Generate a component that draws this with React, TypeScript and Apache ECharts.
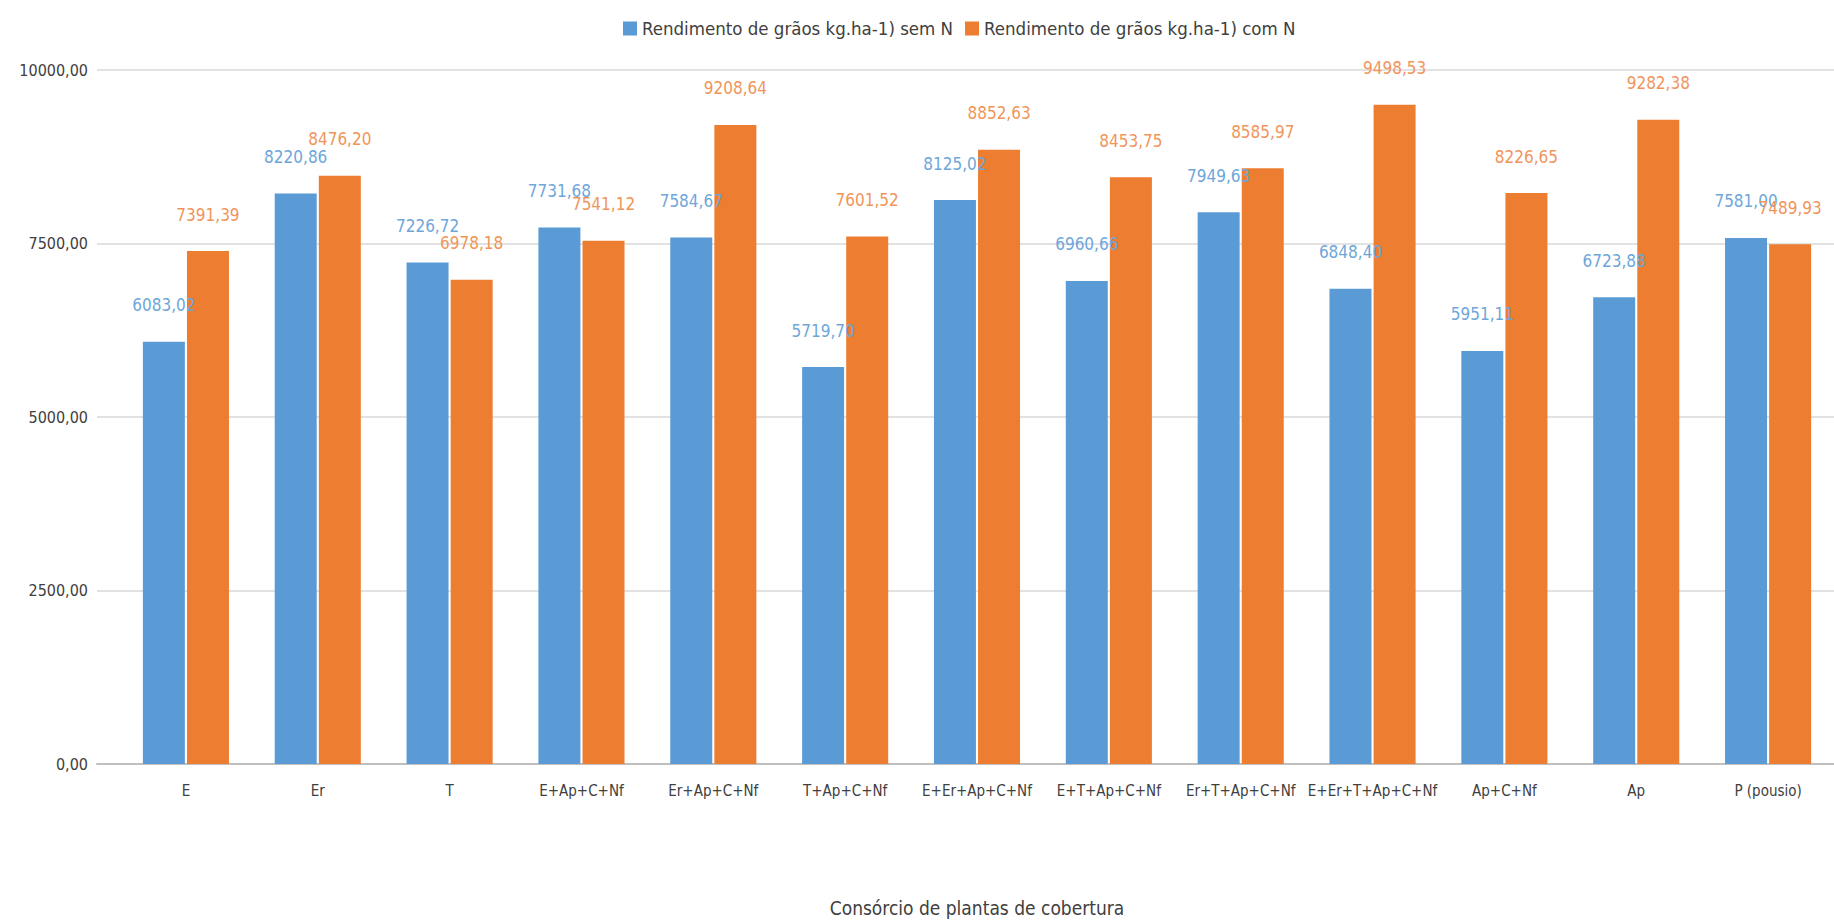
import React, { useEffect, useRef } from "react";
import * as echarts from "echarts";

const categories = [
  "E",
  "Er",
  "T",
  "E+Ap+C+Nf",
  "Er+Ap+C+Nf",
  "T+Ap+C+Nf",
  "E+Er+Ap+C+Nf",
  "E+T+Ap+C+Nf",
  "Er+T+Ap+C+Nf",
  "E+Er+T+Ap+C+Nf",
  "Ap+C+Nf",
  "Ap",
  "P (pousio)",
];

const semN = [6083.02, 8220.86, 7226.72, 7731.68, 7584.67, 5719.7, 8125.02, 6960.66, 7949.63, 6848.4, 5951.11, 6723.88, 7581.0];
const comN = [7391.39, 8476.2, 6978.18, 7541.12, 9208.64, 7601.52, 8852.63, 8453.75, 8585.97, 9498.53, 8226.65, 9282.38, 7489.93];

const seriesNames = [
  "Rendimento de grãos kg.ha-1) sem N",
  "Rendimento de grãos kg.ha-1) com N",
];

const yMin = 0;
const yMax = 10000;
const yStep = 2500;

const FONT = "'Liberation Sans Narrow', 'DejaVu Sans Condensed', 'Open Sans', sans-serif";
const BLUE = "#5b9bd5";
const ORANGE = "#ed7d31";

const fmt = (v: number) => v.toFixed(2).replace(".", ",");

export default function App() {
  const ref = useRef<HTMLDivElement>(null);
  useEffect(() => {
    document.body.style.margin = "0";
    if (!ref.current) return;
    const chart = echarts.init(ref.current, undefined, { renderer: "svg" });
    const gridTop = 70;
    const gridHeight = 694;
    chart.setOption({
      animation: false,
      backgroundColor: "#ffffff",
      textStyle: { fontFamily: FONT },
      legend: {
        top: 14,
        left: 618,
        icon: "rect",
        itemWidth: 14,
        itemHeight: 14,
        itemGap: 12,
        textStyle: { fontFamily: FONT, fontSize: 18.5, color: "#404040" },
        data: seriesNames,
      },
      grid: [
        { left: 97, top: gridTop, height: gridHeight, width: 1800 },
        { left: 120, top: gridTop, height: gridHeight, width: 1729 },
      ],
      xAxis: [
        {
          gridIndex: 0,
          type: "value",
          min: 0,
          max: 1,
          axisLabel: { show: false },
          axisTick: { show: false },
          splitLine: { show: false },
          axisLine: { show: true, lineStyle: { color: "#bfbfbf", width: 2 } },
        },
        {
          gridIndex: 1,
          type: "category",
          data: categories,
          axisLine: { show: false },
          axisTick: { show: false },
          axisLabel: {
            interval: 0,
            margin: 19,
            fontFamily: FONT,
            fontSize: 15,
            color: "#404040",
          },
          name: "Consórcio de plantas de cobertura",
          nameLocation: "middle",
          nameGap: 134,
          nameTextStyle: { fontFamily: FONT, fontSize: 19, color: "#404040" },
        },
      ],
      yAxis: [
        {
          gridIndex: 0,
          type: "value",
          min: yMin,
          max: yMax,
          interval: yStep,
          axisLine: { show: false },
          axisTick: { show: false },
          axisLabel: {
            margin: 9,
            fontFamily: FONT,
            fontSize: 16,
            color: "#404040",
            formatter: (v: number) => fmt(v),
          },
          splitLine: { show: true, lineStyle: { color: "#d9d9d9", width: 1.5 } },
        },
        {
          gridIndex: 1,
          type: "value",
          min: yMin,
          max: yMax,
          interval: yStep,
          show: false,
          splitLine: { show: false },
        },
      ],
      series: [
        {
          name: seriesNames[0],
          type: "bar",
          xAxisIndex: 1,
          yAxisIndex: 1,
          data: semN,
          barWidth: 42,
          barGap: "5%",
          itemStyle: { color: BLUE },
          label: {
            show: true,
            position: "top",
            distance: 28,
            formatter: (p: any) => fmt(p.value),
            fontFamily: FONT,
            fontSize: 17,
            color: "#6ea6da",
          },
        },
        {
          name: seriesNames[1],
          type: "bar",
          xAxisIndex: 1,
          yAxisIndex: 1,
          data: comN,
          barWidth: 42,
          barGap: "5%",
          itemStyle: { color: ORANGE },
          label: {
            show: true,
            position: "top",
            distance: 28,
            formatter: (p: any) => fmt(p.value),
            fontFamily: FONT,
            fontSize: 17,
            color: "#f0955a",
          },
        },
      ],
    });
    return () => chart.dispose();
  }, []);
  return (
    <div
      ref={ref}
      style={{ position: "fixed", left: 0, top: 0, width: 1834, height: 922 }}
    />
  );
}
